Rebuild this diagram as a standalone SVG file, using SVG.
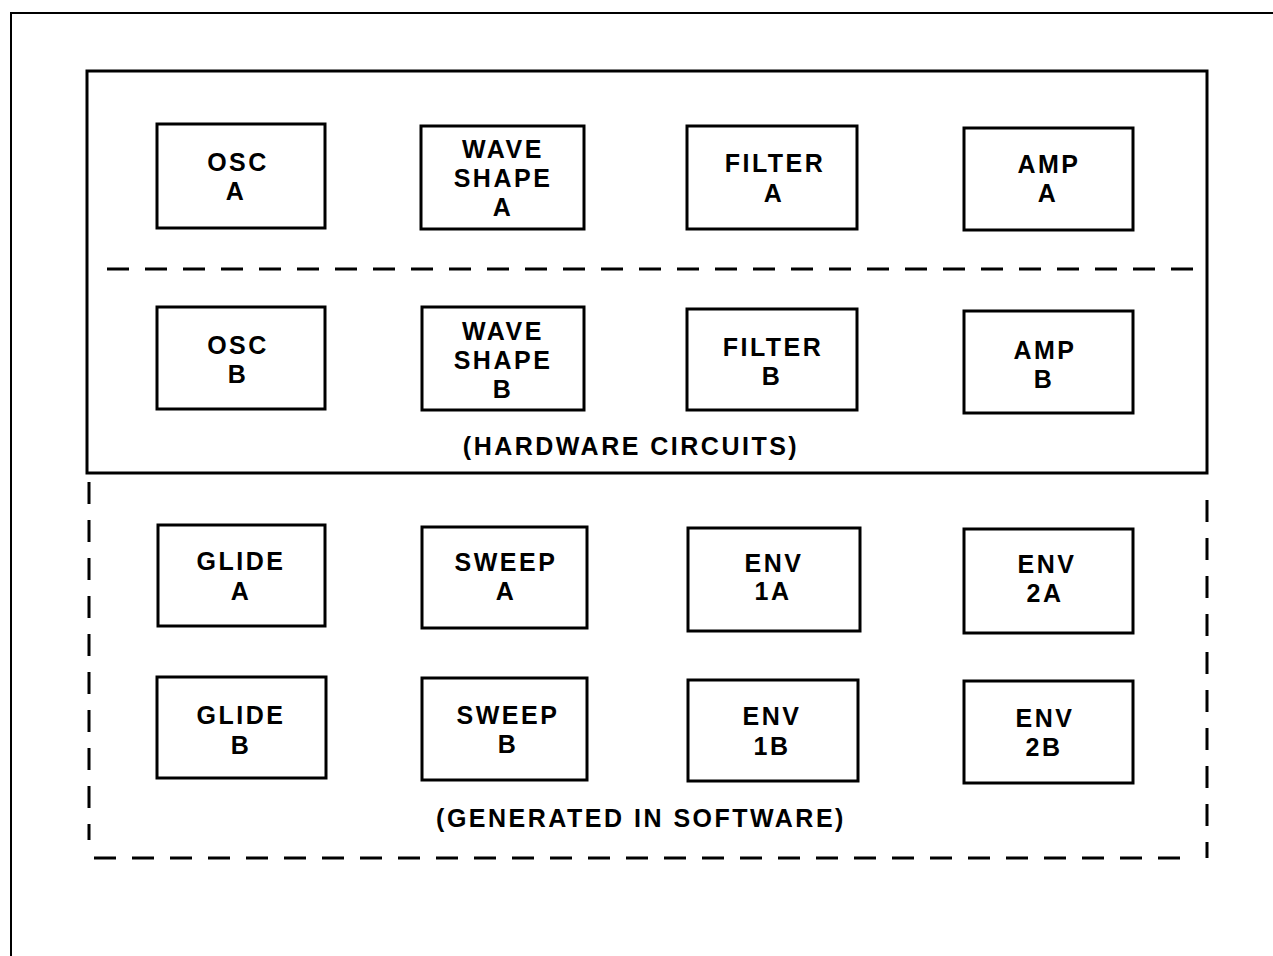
<svg xmlns="http://www.w3.org/2000/svg" width="1273" height="956" viewBox="0 0 1273 956">
<style>
.frame{fill:none;stroke:#000;stroke-width:2}
.solid{fill:none;stroke:#000;stroke-width:3}
.dash{fill:none;stroke:#000;stroke-width:3;stroke-dasharray:22 16}
.box{fill:#fff;stroke:#000;stroke-width:3}
.t{font-family:"Liberation Sans",Arial,sans-serif;font-weight:bold;font-size:25px;letter-spacing:2.5px;text-anchor:middle;fill:#000}
</style>
<rect width="1273" height="956" fill="#fff"/>
<g id="frame">
<polyline class="frame" points="11,956 11,13 1273,13"/>
</g>
<g id="hardware">
<rect class="solid" x="87" y="71" width="1120" height="402"/>
<line class="dash" x1="107" y1="269" x2="1205" y2="269"/>
<text class="t" x="631" y="455">(HARDWARE CIRCUITS)</text>
</g>
<g id="software">
<line class="dash" x1="89" y1="482" x2="89" y2="840"/>
<line class="dash" x1="94" y1="858" x2="1188" y2="858"/>
<line class="dash" x1="1207" y1="500" x2="1207" y2="858"/>
<text class="t" x="641" y="827">(GENERATED IN SOFTWARE)</text>
</g>
<g id="connectors"></g>
<g id="osc-a"><rect class="box" x="157" y="124" width="168" height="104"/><text class="t" x="238" y="171">OSC</text><text class="t" x="236" y="200">A</text></g>
<g id="wave-a"><rect class="box" x="421" y="126" width="163" height="103"/><text class="t" x="503" y="158">WAVE</text><text class="t" x="503" y="187">SHAPE</text><text class="t" x="503" y="216">A</text></g>
<g id="filter-a"><rect class="box" x="687" y="126" width="170" height="103"/><text class="t" x="775" y="172">FILTER</text><text class="t" x="774" y="202">A</text></g>
<g id="amp-a"><rect class="box" x="964" y="128" width="169" height="102"/><text class="t" x="1049" y="173">AMP</text><text class="t" x="1048" y="202">A</text></g>
<g id="osc-b"><rect class="box" x="157" y="307" width="168" height="102"/><text class="t" x="238" y="354">OSC</text><text class="t" x="238" y="383">B</text></g>
<g id="wave-b"><rect class="box" x="422" y="307" width="162" height="103"/><text class="t" x="503" y="340">WAVE</text><text class="t" x="503" y="369">SHAPE</text><text class="t" x="503" y="398">B</text></g>
<g id="filter-b"><rect class="box" x="687" y="309" width="170" height="101"/><text class="t" x="773" y="356">FILTER</text><text class="t" x="772" y="385">B</text></g>
<g id="amp-b"><rect class="box" x="964" y="311" width="169" height="102"/><text class="t" x="1045" y="359">AMP</text><text class="t" x="1044" y="388">B</text></g>
<g id="glide-a"><rect class="box" x="158" y="525" width="167" height="101"/><text class="t" x="241" y="570">GLIDE</text><text class="t" x="241" y="600">A</text></g>
<g id="sweep-a"><rect class="box" x="422" y="527" width="165" height="101"/><text class="t" x="506" y="571">SWEEP</text><text class="t" x="506" y="600">A</text></g>
<g id="env-1a"><rect class="box" x="688" y="528" width="172" height="103"/><text class="t" x="774" y="572">ENV</text><text class="t" x="773" y="600">1A</text></g>
<g id="env-2a"><rect class="box" x="964" y="529" width="169" height="104"/><text class="t" x="1047" y="573">ENV</text><text class="t" x="1045" y="602">2A</text></g>
<g id="glide-b"><rect class="box" x="157" y="677" width="169" height="101"/><text class="t" x="241" y="724">GLIDE</text><text class="t" x="241" y="754">B</text></g>
<g id="sweep-b"><rect class="box" x="422" y="678" width="165" height="102"/><text class="t" x="508" y="724">SWEEP</text><text class="t" x="508" y="753">B</text></g>
<g id="env-1b"><rect class="box" x="688" y="680" width="170" height="101"/><text class="t" x="772" y="725">ENV</text><text class="t" x="772" y="755">1B</text></g>
<g id="env-2b"><rect class="box" x="964" y="681" width="169" height="102"/><text class="t" x="1045" y="727">ENV</text><text class="t" x="1044" y="756">2B</text></g>
</svg>
